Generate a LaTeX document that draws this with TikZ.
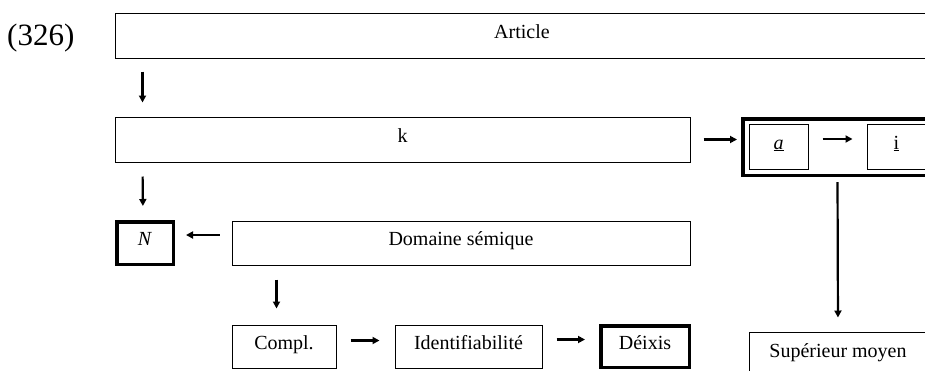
\documentclass[tikz,border=0pt]{standalone}
\usepackage{fontspec}
\setmainfont{Liberation Serif}
\usetikzlibrary{arrows.meta}
\begin{document}
\begin{tikzpicture}[x=1pt,y=-1pt,
  box/.style={draw, line width=1pt, inner sep=0pt, font=\fontsize{20}{22}\selectfont, text height=13pt, text depth=8pt},
  heavybox/.style={box, line width=3.5pt},
  arr/.style={line width=2.2pt, -{Triangle[length=7pt,width=7pt]}}]
\useasboundingbox (0,0) rectangle (925,370);
\clip (0,0) rectangle (925,370);

\node[anchor=west, inner sep=0pt, font=\fontsize{31}{34}\selectfont] (num) at (7,38) {(326)};

\node[box, minimum width=814pt, minimum height=45pt] (article) at (522,35.5) {Article};
\node[box, minimum width=575pt, minimum height=45pt] (k) at (402.5,139.5) {k};
\node[heavybox, minimum width=56.5pt, minimum height=42.5pt] (N) at (145,243) {\textit{N}};
\node[box, minimum width=458pt, minimum height=44pt] (dom) at (461,243) {Domaine sémique};
\node[box, minimum width=104pt, minimum height=43pt] (compl) at (284,346.5) {Compl.};
\node[box, minimum width=147pt, minimum height=43pt] (ident) at (468.5,346.5) {Identifiabilité};
\node[heavybox, minimum width=88.5pt, minimum height=41.5pt] (deixis) at (645,346.5) {Déixis};

\node[heavybox, minimum width=189.5pt, minimum height=56.5pt] (outer) at (837.5,147) {};
\node[box, minimum width=59pt, minimum height=45pt] (a) at (778.5,146.5) {\underline{\textit{a}}};
\node[box, minimum width=59pt, minimum height=45pt] (i) at (896.5,146.5) {\underline{i}};
\node[box, minimum width=178pt, minimum height=46pt] (sup) at (838,355) {Supérieur moyen};

\draw[arr, shorten <=13pt, shorten >=14pt] ([xshift=28pt]article.south west) -- ([xshift=28pt]k.north west);
\draw[arr, shorten <=14pt, shorten >=14pt] ([xshift=28pt]k.south west) -- ([xshift=28pt]N.north west);
\draw[arr, shorten <=12pt, shorten >=11pt] ([yshift=8pt]dom.west) -- ([yshift=8pt]N.east);
\draw[arr, shorten <=14pt, shorten >=16pt] ([xshift=45pt]dom.south west) -- ([xshift=45pt]compl.north west);
\draw[arr, shorten <=14pt, shorten >=15pt] ([yshift=6pt]compl.east) -- ([yshift=6pt]ident.west);
\draw[arr, shorten <=14pt, shorten >=14pt] ([yshift=7pt]ident.east) -- ([yshift=7pt]deixis.west);
\draw[arr, shorten <=13pt, shorten >=4pt] (k.east) -- (k.east -| outer.west);
\draw[arr, shorten <=14pt, shorten >=14pt] ([yshift=7.5pt]a.east) -- ([yshift=7.5pt]i.west);
\draw[arr, shorten <=5pt, shorten >=14pt] (outer.south) -- (sup.north);
\end{tikzpicture}
\end{document}
